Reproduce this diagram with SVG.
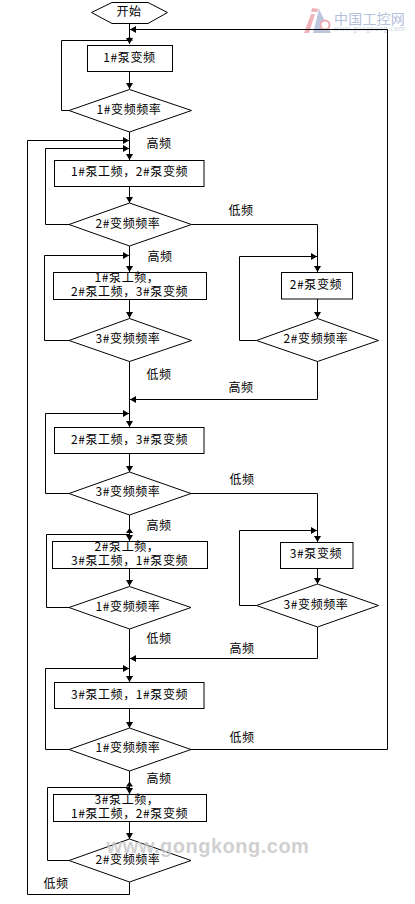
<svg xmlns="http://www.w3.org/2000/svg" width="415" height="904" viewBox="0 0 415 904">
<style>
.n{fill:#fff;stroke:#000;stroke-width:1}
.c{fill:none;stroke:#000;stroke-width:1}
.h{fill:#000}
text{font-family:"Noto Sans CJK SC","Liberation Sans",sans-serif;font-size:12px;fill:#000;text-anchor:middle;letter-spacing:.6px}
</style>
<defs>
<marker id="a" markerWidth="7" markerHeight="7" refX="6" refY="3.5" orient="auto" markerUnits="userSpaceOnUse"><path d="M0 0L6 3.5L0 7Z" fill="#000"/></marker>
</defs>
<rect width="415" height="904" fill="#fff"/>
<g id="watermarks">
<path d="M319 9L331 33H313Z" fill="#bcc6de"/>
<path d="M311 14H315L309 33H304Z" fill="#f0b4b8"/>
<path d="M312 8L319 9L317 12H311Z" fill="#f0b4b8"/>
<circle cx="325" cy="25" r="4.5" fill="#fff" stroke="#eeaab2" stroke-width="2"/>
<text x="369.5" y="24" style="font-size:14px;fill:#b4c0dc;letter-spacing:.2px">中国工控网</text>
<text x="369.5" y="31" style="font-size:6.5px;fill:#c8d0e2;letter-spacing:.6px">www.gongkong.com</text>
</g>
<g id="connectors">
<path class="c" d="M129.5 23.5V44" marker-end="url(#a)"/>
<path class="c" d="M191 749.5H387.5V29.5H130" marker-end="url(#a)"/>
<path class="c" d="M69 110.5H61.5V40.5H129"/>
<path class="h" d="M126 40.5L129.5 36.5L133 40.5Z"/>
<path class="c" d="M129.5 71V89" marker-end="url(#a)"/>
<path class="c" d="M129.5 132V160" marker-end="url(#a)"/>
<path class="c" d="M129.5 882V894.5H27.5V140.5H129" marker-end="url(#a)"/>
<path class="c" d="M69 224.5H45.5V148.5H129" marker-end="url(#a)"/>
<path class="c" d="M129.5 186V203" marker-end="url(#a)"/>
<path class="c" d="M129.5 246V272" marker-end="url(#a)"/>
<path class="c" d="M191.5 224.5H317.5V272" marker-end="url(#a)"/>
<path class="c" d="M69 340.5H44.5V255.5H129" marker-end="url(#a)"/>
<path class="c" d="M129.5 299.5V318" marker-end="url(#a)"/>
<path class="c" d="M256.5 340.5H239.5V256.5H317" marker-end="url(#a)"/>
<path class="c" d="M317.5 299V318" marker-end="url(#a)"/>
<path class="c" d="M317.5 361.5V399.5H130" marker-end="url(#a)"/>
<path class="c" d="M129.5 361.5V427" marker-end="url(#a)"/>
<path class="c" d="M69 493.5H45.5V413.5H129" marker-end="url(#a)"/>
<path class="c" d="M129.5 453.5V472" marker-end="url(#a)"/>
<path class="c" d="M129.5 515V541" marker-end="url(#a)"/>
<path class="c" d="M191 493.5H317.5V542" marker-end="url(#a)"/>
<path class="c" d="M69 607.5H46.5V534.5H129"/>
<path class="h" d="M126 533L129.5 528L133 533Z"/>
<path class="c" d="M129.5 568.5V586" marker-end="url(#a)"/>
<path class="c" d="M256.5 605.5H239.5V530.5H317" marker-end="url(#a)"/>
<path class="c" d="M317.5 568.5V584" marker-end="url(#a)"/>
<path class="c" d="M317.5 627V658.5H130" marker-end="url(#a)"/>
<path class="c" d="M129.5 629V682" marker-end="url(#a)"/>
<path class="c" d="M69 749.5H45.5V668.5H129" marker-end="url(#a)"/>
<path class="c" d="M129.5 708.5V728" marker-end="url(#a)"/>
<path class="c" d="M129.5 771V794" marker-end="url(#a)"/>
<path class="c" d="M69 860.5H47.5V787.5H129"/>
<path class="h" d="M126 786.5L129.5 781.5L133 786.5Z"/>
<path class="c" d="M129.5 821V839" marker-end="url(#a)"/>
</g>
<g id="start"><path class="n" d="M91.5 12.5L112 2.5H148L167.5 12.5L148 23.5H112Z"/><text x="129" y="16">开始</text></g>
<g id="b1"><rect class="n" x="87.5" y="45.5" width="85" height="26"/><text x="129.5" y="62">1#泵变频</text></g>
<g id="d1"><path class="n" d="M69 110.5L129.5 89.5L191.5 110.5L129.5 132Z"/><text x="129" y="114">1#变频频率</text></g>
<g id="b2"><rect class="n" x="54.5" y="160.5" width="149.5" height="26"/><text x="129.5" y="176">1#泵工频，2#泵变频</text></g>
<g id="d2"><path class="n" d="M69 224.5L129.5 203L191.5 224.5L129.5 246Z"/><text x="128" y="228">2#变频频率</text></g>
<g id="b3"><rect class="n" x="53.5" y="272.5" width="153" height="27"/><text x="127" y="282">1#泵工频，</text><text x="129.5" y="296">2#泵工频，3#泵变频</text></g>
<g id="d3"><path class="n" d="M69 340.5L129.5 318.5L191.5 340.5L129.5 361.5Z"/><text x="128" y="343">3#变频频率</text></g>
<g id="b3r"><rect class="n" x="281.5" y="272.5" width="71" height="26.5"/><text x="316" y="289">2#泵变频</text></g>
<g id="d3r"><path class="n" d="M256.5 340.5L317.5 318.5L378.5 340.5L317.5 361.5Z"/><text x="316" y="343">2#变频频率</text></g>
<g id="b4"><rect class="n" x="54.5" y="427.5" width="149.5" height="26"/><text x="129.5" y="444">2#泵工频，3#泵变频</text></g>
<g id="d4"><path class="n" d="M69 493.5L129.5 472L191 493.5L129.5 515Z"/><text x="128" y="496">3#变频频率</text></g>
<g id="b5"><rect class="n" x="52.5" y="541.5" width="155" height="27"/><text x="127" y="551">2#泵工频，</text><text x="129.5" y="565">3#泵工频，1#泵变频</text></g>
<g id="d5"><path class="n" d="M69 607.5L129.5 586.5L191 607.5L129.5 629Z"/><text x="128" y="611">1#变频频率</text></g>
<g id="b5r"><rect class="n" x="280.5" y="542.5" width="72.5" height="26"/><text x="316" y="558">3#泵变频</text></g>
<g id="d5r"><path class="n" d="M256.5 605.5L317.5 584L378.5 605.5L317.5 627Z"/><text x="316" y="609">3#变频频率</text></g>
<g id="b6"><rect class="n" x="54.5" y="682.5" width="149.5" height="26"/><text x="129.5" y="699">3#泵工频，1#泵变频</text></g>
<g id="d6"><path class="n" d="M69 749.5L129.5 728L191 749.5L129.5 771Z"/><text x="128" y="752">1#变频频率</text></g>
<g id="b7"><rect class="n" x="53.5" y="794.5" width="153" height="27"/><text x="127" y="804">3#泵工频，</text><text x="129.5" y="818">1#泵工频，2#泵变频</text></g>
<g id="d7"><path class="n" d="M69 860.5L129.5 839L191 860.5L129.5 882Z"/><text x="128" y="864">2#变频频率</text></g>
<g id="labels">
<text x="159" y="148">高频</text>
<text x="241" y="215">低频</text>
<text x="160" y="261">高频</text>
<text x="159" y="379">低频</text>
<text x="241" y="392">高频</text>
<text x="242" y="484">低频</text>
<text x="159" y="530">高频</text>
<text x="159" y="643">低频</text>
<text x="242" y="653">高频</text>
<text x="242" y="742">低频</text>
<text x="159" y="783">高频</text>
<text x="56" y="888">低频</text>
</g>
<text x="208" y="853" style="font-family:'Liberation Sans',sans-serif;font-weight:bold;font-size:20px;fill:#c4c4c4;fill-opacity:.8;letter-spacing:.5px">www.gongkong.com</text>
</svg>
